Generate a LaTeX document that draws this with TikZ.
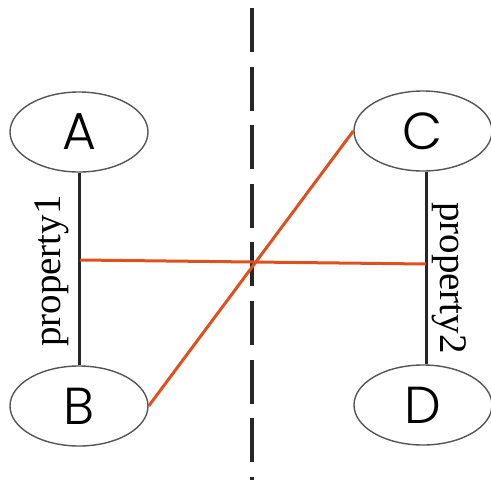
\documentclass[tikz,border=0pt]{standalone}
\usepackage{fontspec}
\setmainfont{Liberation Serif}
\newfontfamily\nodefont{Poppins}[UprightFont=* Light]
\usetikzlibrary{shapes.geometric}
\definecolor{redline}{HTML}{E0501E}
\definecolor{ellline}{HTML}{555555}
\tikzset{
  ent/.style={ellipse, draw=ellline, line width=1.4pt, minimum width=138pt, minimum height=80pt, inner sep=0pt, font=\nodefont\fontsize{52}{52}\selectfont},
  link/.style={draw=black!85, line width=3pt},
  rel/.style={draw=redline, line width=3pt},
  divider/.style={draw=black!85, line width=3.5pt, dash pattern=on 44pt off 14.6pt},
  plabel/.style={font=\fontsize{39}{39}\selectfont, inner sep=0pt}
}
\begin{document}
\begin{tikzpicture}[x=1pt,y=-1pt]
\useasboundingbox (0,0) rectangle (491,480);
\node[ent] (A) at (79,132) {A};
\node[ent] (B) at (79,406) {B};
\node[ent] (C) at (423,131) {C};
\node[ent] (D) at (423,405) {D};
\coordinate (top) at (252,8);
\coordinate (bot) at (252,482);
\draw[divider] (top) -- (bot);
\draw[link] (A.south) -- (B.north);
\draw[link] (C.south -| 426,0) -- (D.north -| 426,0);
\coordinate (p1) at (80,260);
\coordinate (p2) at (426,264);
\draw[rel] (p1) -- (p2);
\draw[rel] (B.east) -- (C.west);
\node[plabel, rotate=90] (l1) at (52,271) {property1};
\node[plabel, rotate=-90] (l2) at (449,278) {property2};
\end{tikzpicture}
\end{document}
